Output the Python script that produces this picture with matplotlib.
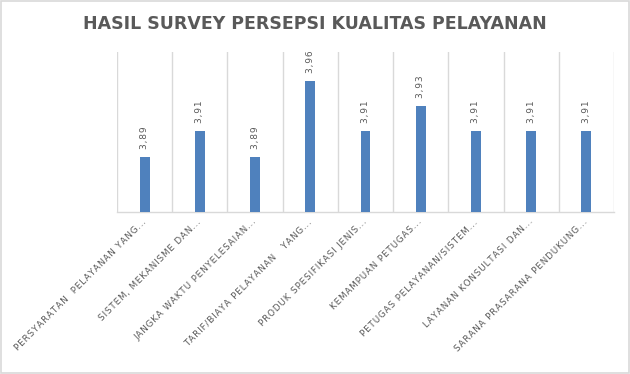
import matplotlib
matplotlib.use("Agg")
import matplotlib.pyplot as plt
from matplotlib.patches import Rectangle

# ---- data ------------------------------------------------------------------
categories = [
    "PERSYARATAN  PELAYANAN YANG...",
    "SISTEM, MEKANISME DAN...",
    "JANGKA WAKTU PENYELESAIAN...",
    "TARIF/BIAYA PELAYANAN   YANG...",
    "PRODUK SPESIFIKASI JENIS...",
    "KEMAMPUAN PETUGAS...",
    "PETUGAS PELAYANAN/SISTEM...",
    "LAYANAN KONSULTASI DAN...",
    "SARANA PRASARANA PENDUKUNG...",
]
# unrounded scores (labels show 2 decimals, comma separator)
scores = [3.8887, 3.9117, 3.8887, 3.9559, 3.9117, 3.9338, 3.9117, 3.9117, 3.9117]
title = "HASIL SURVEY PERSEPSI KUALITAS PELAYANAN"

BAR_COLOR = "#4f81bd"
TEXT_COLOR = "#595959"
GRID_COLOR = "#d9d9d9"


def spaced(s):
    # mimic Excel's expanded character spacing with hair spaces
    return "\u200a".join(s)


fig = plt.figure(figsize=(6.3, 3.74), dpi=100)
ax = fig.add_axes([117 / 630, 1 - 212 / 374, 497 / 630, 160 / 374])

x = list(range(len(categories)))
ax.bar(x, scores, width=0.18, color=BAR_COLOR, zorder=3)
ax.set_xlim(-0.5, len(categories) - 0.5)
ax.set_ylim(3.84, 3.9816)

# vertical separators between categories
for b in range(len(categories) + 1):
    ax.axvline(b - 0.5, color=GRID_COLOR, lw=1, zorder=1)

for spine in ["top", "right", "left"]:
    ax.spines[spine].set_visible(False)
ax.spines["bottom"].set_color(GRID_COLOR)
ax.spines["bottom"].set_linewidth(1)
ax.set_yticks([])
ax.set_xticks(x)
ax.tick_params(axis="x", length=0, pad=6)
ax.set_xticklabels([spaced(c) for c in categories], rotation=45, ha="right",
                   va="center", rotation_mode="anchor", fontsize=6.3,
                   color=TEXT_COLOR)

for xi, v in zip(x, scores):
    ax.annotate(spaced(f"{v:.2f}".replace(".", ",")), (xi, v), xytext=(0, 6),
                textcoords="offset points", rotation=90, ha="center",
                va="bottom", fontsize=6.5, color=TEXT_COLOR)

fig.text(0.5, 0.936, title, ha="center", va="center", fontsize=12.5,
         fontweight="bold", color=TEXT_COLOR)

# chart area border
fig.patches.append(Rectangle((0.0015, 0.0025), 0.997, 0.995, transform=fig.transFigure,
                             fill=False, edgecolor=GRID_COLOR, lw=1.2))

fig.savefig("out.png", dpi=100)
